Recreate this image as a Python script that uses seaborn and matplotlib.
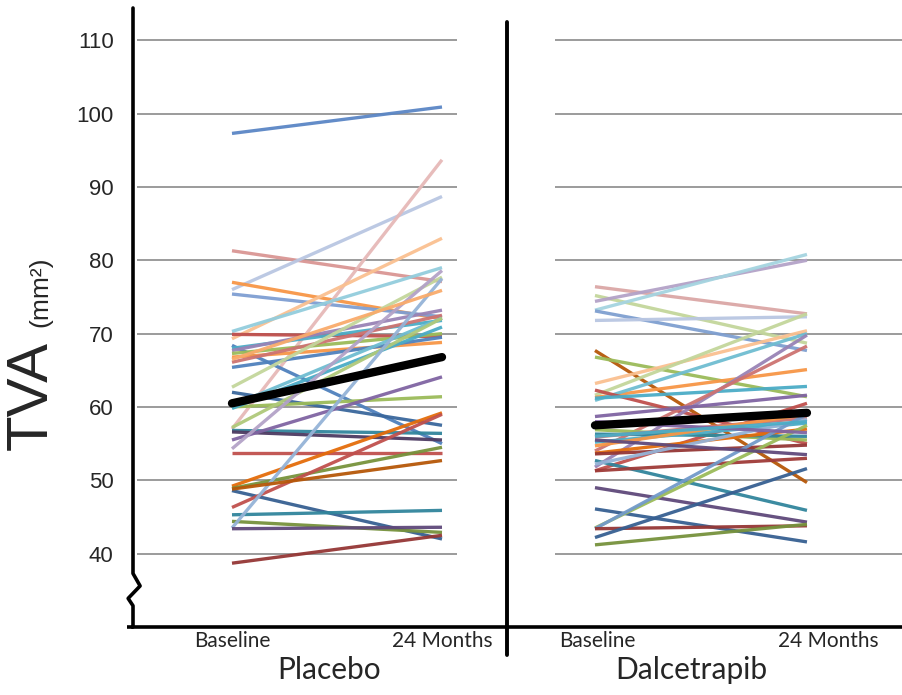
import numpy as np
import pandas as pd
import matplotlib
matplotlib.use("Agg")
import matplotlib.pyplot as plt
import matplotlib.transforms as mtransforms
from matplotlib.lines import Line2D
import seaborn as sns

# --- data (TVA, mm^2) ---
times = ["Baseline", "24 Months"]

placebo_base = [97.3, 81.3, 76.0, 77.0, 75.4, 57.0, 69.3, 70.3, 69.9, 68.4,
                68.0, 67.7, 67.3, 66.8, 66.1, 65.4, 62.7, 62.0, 60.2, 60.0,
                59.8, 57.2, 56.8, 56.6, 55.5, 54.3, 53.7, 49.2, 48.9, 48.6,
                46.3, 45.3, 44.4, 43.5, 43.4, 38.7, 48.8, 66.5]
placebo_24m = [100.9, 77.1, 88.7, 72.0, 72.3, 93.7, 83.0, 79.0, 69.6, 55.0,
               71.8, 73.2, 70.0, 68.8, 72.5, 69.5, 77.7, 57.5, 72.1, 61.4,
               70.9, 72.1, 56.4, 55.5, 64.1, 78.6, 53.7, 59.2, 54.5, 42.0,
               59.0, 45.9, 42.9, 77.5, 43.6, 42.5, 52.7, 75.9]
placebo_colors = ["#5b86c5", "#d99694", "#b9c6e2", "#f79646", "#7e9ed2", "#e6b9b8",
                  "#fac090", "#93cddd", "#c0504d", "#4f81bd", "#4bacc6", "#9983b5",
                  "#9bbb59", "#f79646", "#cd7371", "#4f81bd", "#c3d69b", "#3a679c",
                  "#6fbdd1", "#9bbb59", "#4bacc6", "#afc97a", "#31859c", "#4d3b62",
                  "#8064a2", "#b3a2c7", "#c0504d", "#e46c0a", "#77933c", "#376092",
                  "#c0504d", "#31859c", "#76923c", "#95b3d7", "#5f497a", "#953735",
                  "#b65708", "#f9ab6b"]

dalce_base = [76.4, 75.2, 74.4, 73.2, 73.1, 71.8, 67.7, 66.8, 63.2, 61.6,
              61.3, 60.9, 62.3, 61.2, 51.8, 54.0, 58.7, 51.3, 56.9, 56.3,
              55.9, 55.2, 54.7, 53.7, 53.6, 52.7, 52.2, 51.3, 49.0, 46.1,
              43.5, 43.4, 43.4, 42.2, 41.2, 55.5, 58.0, 56.0]
dalce_24m = [72.7, 68.7, 80.0, 80.8, 67.7, 72.3, 49.7, 61.4, 70.4, 72.7,
             65.1, 70.0, 55.0, 62.8, 69.8, 68.3, 61.6, 60.5, 55.5, 56.0,
             58.5, 57.8, 59.0, 57.0, 54.8, 45.9, 58.3, 53.0, 44.3, 41.6,
             57.5, 59.0, 43.8, 51.6, 44.0, 53.5, 56.5, 58.0]
dalce_colors = ["#dba7a6", "#c3d69b", "#b3a2c7", "#a5d4e0", "#7f9fd0", "#b9c6e2",
                "#b65708", "#9bbb59", "#fac090", "#c3d69b", "#f79646", "#6fbdd1",
                "#c0504d", "#4bacc6", "#9983b5", "#cd7371", "#8064a2", "#c0504d",
                "#9bbb59", "#31859c", "#cd7371", "#4bacc6", "#f79646", "#e46c0a",
                "#953735", "#31859c", "#95b3d7", "#9f3b38", "#5f497a", "#376092",
                "#9bbb59", "#729aca", "#953735", "#376092", "#76923c", "#604a7b",
                "#8064a2", "#4bacc6"]

placebo_mean = [60.5, 66.8]
dalce_mean = [57.5, 59.2]

groups = ["Placebo", "Dalcetrapib"]
yticks = [40, 50, 60, 70, 80, 90, 100, 110]


def long_form(base, end):
    rows = []
    for i, (b, e) in enumerate(zip(base, end)):
        rows.append({"subject": i, "time": 0, "tva": b})
        rows.append({"subject": i, "time": 1, "tva": e})
    return pd.DataFrame(rows)


sns.set_style("white")
plt.rcParams["font.family"] = ["Liberation Sans", "DejaVu Sans"]

W, H = 903, 695
fig = plt.figure(figsize=(W / 100, H / 100), dpi=100)

y_lo, y_hi = 30, 114.4
ax_bottom = (H - 627) / H
ax_height = (627 - 8) / H
axL = fig.add_axes([133 / W, ax_bottom, (507 - 133) / W, ax_height])
axR = fig.add_axes([507 / W, ax_bottom, (903 - 507) / W, ax_height])

panels = [
    (axL, placebo_base, placebo_24m, placebo_colors, placebo_mean, (-0.4714, 1.3095), (-0.452, 1.071), [0, 1]),
    (axR, dalce_base, dalce_24m, dalce_colors, dalce_mean, (-0.415, 1.453), (-0.189, 1.453), [0.01, 1.1]),
]

for ax, base, end, cols, mean, xlim, grid_x, tick_x in panels:
    df = long_form(base, end)
    pal = {i: c for i, c in enumerate(cols)}
    ax.hlines(yticks, grid_x[0], grid_x[1], color="#8a8a8a", lw=1.2, zorder=0)
    sns.lineplot(data=df, x="time", y="tva", hue="subject", palette=pal,
                 estimator=None, legend=False, lw=2.4, alpha=0.95, ax=ax,
                 solid_capstyle="butt")
    sns.lineplot(x=[0, 1], y=mean, color="black", lw=6, ax=ax,
                 solid_capstyle="round", zorder=5)
    ax.set_xlim(*xlim)
    ax.set_ylim(y_lo, y_hi)
    ax.set_xlabel("")
    ax.set_ylabel("")
    ax.set_xticks(tick_x)
    ax.set_xticklabels(times, family=["Lato", "DejaVu Sans"], fontsize=15)
    ax.tick_params(axis="x", length=0, pad=3)
    for s in ["top", "right", "left"]:
        ax.spines[s].set_visible(False)
    ax.spines["bottom"].set_color("black")
    ax.spines["bottom"].set_linewidth(2.6)
    ax.patch.set_alpha(0)

axL.set_yticks(yticks)
axL.set_yticklabels([str(v) for v in yticks], fontsize=16)
axL.tick_params(axis="y", length=0, pad=14)
axR.set_yticks([])

# left axis with a break near the bottom
tr = mtransforms.blended_transform_factory(axL.transAxes, axL.transData)
axL.add_line(Line2D([0, 0, 0.019, -0.013, 0, 0], [y_hi, 37.3, 35.6, 33.9, 32.9, y_lo],
                    transform=tr, color="black", lw=2.6, clip_on=False))
axL.add_line(Line2D([-0.017, 0], [y_lo, y_lo], transform=tr, color="black", lw=2.6,
                    clip_on=False, solid_capstyle="butt"))

# divider between the two groups
fig.add_artist(Line2D([507 / W, 507 / W], [1 - 22 / H, 1 - 655 / H], color="black", lw=2.8))

# group labels
for ax, name, gx in [(axL, groups[0], 0.46), (axR, groups[1], 0.453)]:
    t = mtransforms.blended_transform_factory(ax.transData, ax.transAxes)
    ax.text(gx, (627 - 670) / 619, name, transform=t, ha="center", va="center",
            fontsize=21.5, family=["Lato", "DejaVu Sans"])

# y axis title
fig.text(32 / W, 1 - 396 / H, "TVA", rotation=90, ha="center", va="center", fontsize=42)
fig.text(40 / W, 1 - 292 / H, "(mm²)", rotation=90, ha="center", va="center", fontsize=19)

fig.savefig("out.png", dpi=100)
